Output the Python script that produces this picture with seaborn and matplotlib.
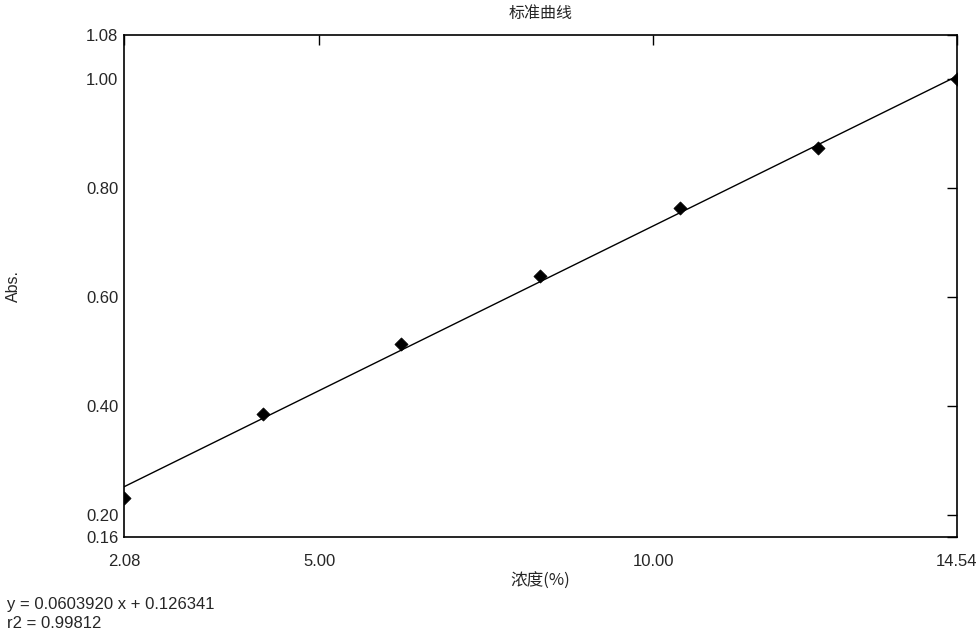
import matplotlib

matplotlib.use("Agg")

import matplotlib.pyplot as plt  # noqa: E402
import numpy as np  # noqa: E402
import pandas as pd  # noqa: E402
import seaborn as sns  # noqa: E402

# Standard curve data (concentration %, absorbance)
conc = [2.08, 4.16, 6.23, 8.31, 10.39, 12.46, 14.54]
absorb = [0.232, 0.385, 0.513, 0.639, 0.762, 0.873, 0.999]

# Reported fit
slope = 0.0603920
intercept = 0.126341
r2 = 0.99812

x_ticks = [2.08, 5.00, 10.00, 14.54]
y_ticks = [0.16, 0.20, 0.40, 0.60, 0.80, 1.00, 1.08]

sns.set_style("white")
plt.rcParams["font.family"] = ["Liberation Sans", "Noto Sans CJK SC", "DejaVu Sans"]
CJK = ["Noto Sans CJK SC", "DejaVu Sans"]

fig = plt.figure(figsize=(9.8, 6.36), dpi=100)
ax = fig.add_axes([0.1265, 0.1557, 0.85, 0.7893])

df = pd.DataFrame({"x": conc, "y": absorb})
fit_x = np.array([conc[0], conc[-1]])
fit_df = pd.DataFrame({"x": fit_x, "y": slope * fit_x + intercept})

sns.lineplot(data=fit_df, x="x", y="y", ax=ax, color="black", linewidth=1.0)
sns.scatterplot(data=df, x="x", y="y", ax=ax, marker="D", s=45,
                color="black", edgecolor="black", linewidth=0.5, zorder=3)

ax.set_xlim(conc[0], conc[-1])
ax.set_ylim(y_ticks[0], y_ticks[-1])
ax.set_xticks(x_ticks)
ax.set_xticklabels([f"{v:.2f}" for v in x_ticks])
ax.set_yticks(y_ticks)
ax.set_yticklabels([f"{v:.2f}" for v in y_ticks])

for side in ax.spines.values():
    side.set_visible(True)
    side.set_color("black")
    side.set_linewidth(1.2)

ax.tick_params(axis="both", direction="in", length=7.5, width=1, color="black",
               top=True, right=True, labelsize=12)
ax.tick_params(axis="x", pad=12)
ax.tick_params(axis="y", pad=4)

ax.set_xlabel("浓度(%)", fontsize=12, labelpad=3, family=CJK)
ax.set_ylabel("Abs.", fontsize=11.5)
ax.yaxis.set_label_coords(-0.124, 0.5)
ax.set_title("标准曲线", fontsize=11.5, pad=12, family=CJK)

fig.text(0.007, 0.049, f"y = {slope:.7f} x + {intercept:.6f}", fontsize=12,
         va="center", ha="left")
fig.text(0.007, 0.019, f"r2 = {r2:.5f}", fontsize=12, va="center", ha="left")

fig.savefig("out.png", dpi=100)
